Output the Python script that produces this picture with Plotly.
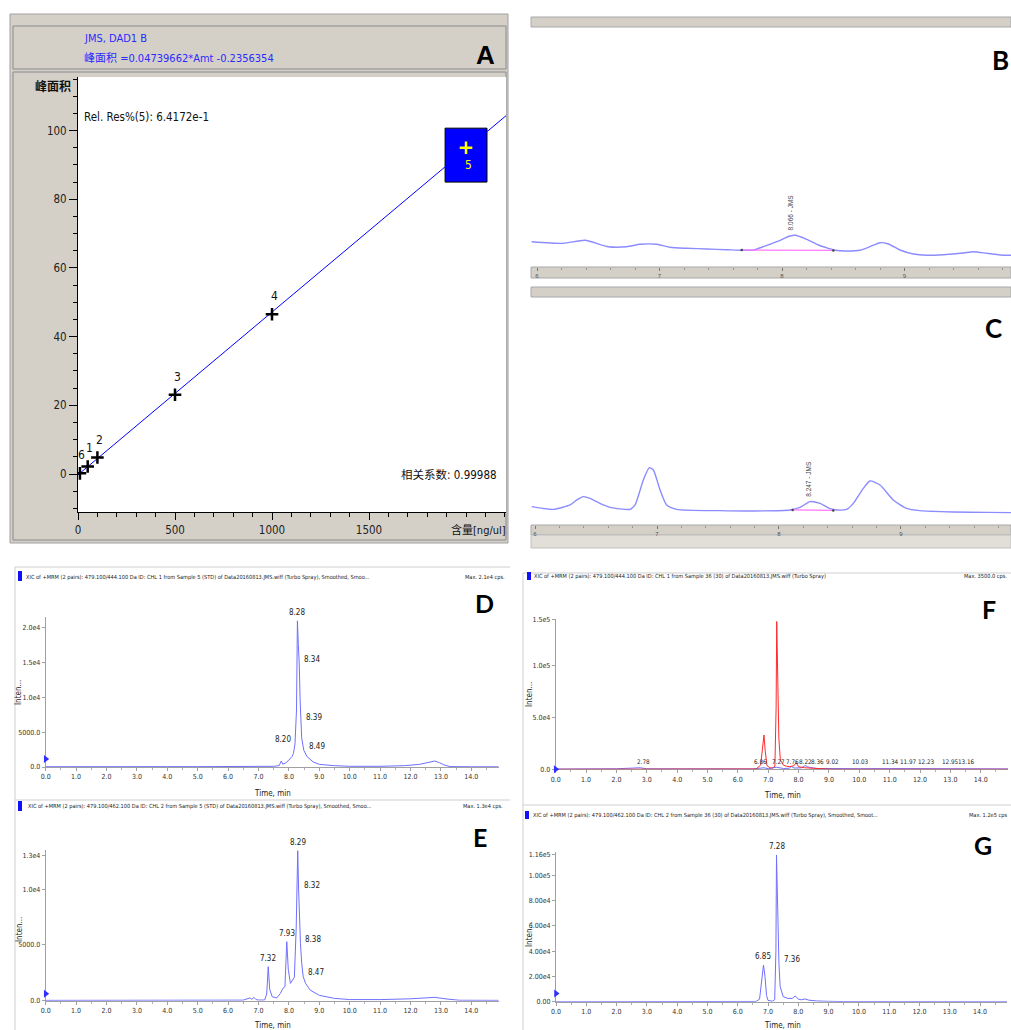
import plotly.graph_objects as go

# ---------------- DATA ----------------
# Panel A: calibration curve
cal_amount = [10, 50, 100, 500, 1000, 2000]
cal_area = [0.2, 2.2, 4.8, 23.1, 46.5, 95.0]
cal_labels = ["6", "1", "2", "3", "4", "5"]
fit_slope = 0.04739662
fit_intercept = -0.2356354
fit_x = [0, 2206]
a_xticks = [0, 500, 1000, 1500]
a_yticks = [0, 20, 40, 60, 80, 100]

# Panel B: DAD chromatogram (standard)
B_time = [5.956, 6.215, 6.392, 6.582, 6.732, 6.841, 6.977, 7.086, 7.222, 7.385, 7.548, 7.671,
          7.766, 7.848, 7.957, 8.065, 8.106, 8.201, 8.297, 8.378, 8.433, 8.541, 8.637, 8.718,
          8.800, 8.868, 8.963, 9.072, 9.181, 9.317, 9.480, 9.562, 9.671, 9.780, 9.870]
B_signal = [18.3, 16.7, 19.7, 13.3, 13.3, 15.7, 15.7, 12.7, 11.7, 11.0, 10.3, 9.7,
            10.0, 13.3, 18.3, 24.0, 24.7, 20.7, 15.0, 11.7, 9.7, 9.0, 9.7, 13.3,
            17.3, 16.0, 10.0, 6.0, 4.7, 5.3, 7.0, 8.3, 6.7, 5.0, 4.7]
B_base_time = [7.671, 8.419]
B_base_signal = [9.9, 9.6]
B_peak = (8.066, 24.7, "8.066 - JMS")

# Panel C: DAD chromatogram (sample)
C_time = [5.973, 6.150, 6.287, 6.340, 6.396, 6.451, 6.505, 6.560, 6.615, 6.779, 6.820, 6.888,
          6.937, 6.970, 7.025, 7.079, 7.161, 7.516, 7.790, 8.090, 8.172, 8.254, 8.336, 8.418,
          8.473, 8.555, 8.609, 8.691, 8.746, 8.828, 8.937, 9.046, 9.156, 9.429, 9.702, 9.902]
C_signal = [10.0, 7.3, 11.7, 16.5, 20.0, 18.3, 15.0, 11.7, 9.3, 7.3, 11.7, 36.7,
            49.0, 46.7, 26.7, 11.7, 7.3, 6.0, 5.7, 6.7, 9.3, 15.0, 13.3, 8.0,
            6.7, 7.3, 13.3, 28.3, 35.7, 31.7, 16.7, 8.3, 6.0, 4.7, 4.3, 4.0]
C_base_time = [8.112, 8.445]
C_base_signal = [6.7, 6.2]
C_peak = (8.247, 15.0, "8.247 - JMS")

# Panel D: XIC 479.1/444.1, standard
D_time = [0.0, 0.5, 1.0, 2.0, 3.0, 4.0, 5.0, 6.0, 7.0, 7.5, 7.68, 7.75, 7.8, 7.9, 8.0, 8.1,
          8.15, 8.2, 8.25, 8.28, 8.31, 8.34, 8.37, 8.39, 8.42, 8.49, 8.6, 8.8, 9.0, 9.5,
          10.0, 11.0, 11.8, 12.3, 12.6, 12.8, 12.95, 13.1, 13.3, 13.6, 14.0, 14.9]
D_intensity = [40, 30, 40, 50, 40, 50, 50, 60, 70, 100, 200, 860, 400, 600, 1000, 1500,
               1960, 3300, 8200, 21000, 17600, 14800, 9500, 6500, 4200, 2400, 1480, 720, 380, 190,
               100, 100, 190, 380, 620, 860, 620, 300, 60, 30, 30, 30]
D_peaks = [(8.28, 21000), (8.34, 14800), (8.39, 6500), (8.20, 3300), (8.49, 2400)]
D_yticks = [0, 5000, 10000, 15000, 20000]
D_yticktext = ["0.0", "5000.0", "1.0e4", "1.5e4", "2.0e4"]

# Panel E: XIC 479.1/462.1, standard
E_time = [0, 1, 2, 3, 4, 5, 6, 6.5, 6.72, 6.78, 6.85, 6.92, 7.0, 7.2, 7.27, 7.32, 7.37, 7.45,
          7.6, 7.72, 7.8, 7.87, 7.93, 7.98, 8.05, 8.12, 8.18, 8.24, 8.29, 8.32, 8.35, 8.38,
          8.42, 8.47, 8.55, 8.7, 9.0, 9.5, 10.0, 11.0, 12.0, 12.8, 13.2, 13.6, 14.9]
E_intensity = [30, 30, 40, 30, 40, 30, 40, 50, 250, 120, 300, 100, 60, 60, 600, 3050, 1000, 350,
               250, 650, 1100, 1250, 5290, 2800, 1550, 1800, 2100, 6500, 13440, 9920, 7000, 5140,
               3400, 2150, 1550, 950, 480, 210, 100, 100, 170, 300, 150, 40, 30]
E_peaks = [(8.29, 13440), (8.32, 9920), (7.93, 5290), (8.38, 5140), (7.32, 3050), (8.47, 2150)]
E_yticks = [0, 5000, 10000, 13000]
E_yticktext = ["0.0", "5000.0", "1.0e4", "1.3e4"]

# Panel F: XIC 479.1/444.1, sample (red) + second channel (blue)
F_red_time = [0, 1, 2, 3, 4, 5, 6, 6.6, 6.75, 6.82, 6.86, 6.9, 6.96, 7.05, 7.15, 7.22, 7.26,
              7.28, 7.31, 7.35, 7.4, 7.5, 7.6, 7.7, 7.85, 7.92, 8.0, 8.2, 8.5, 8.9, 9.1, 10, 12, 14.9]
F_red_intensity = [0, 0, 0, 0, 0, 0, 0, 300, 4000, 25000, 33200, 18000, 3500, 1500, 1200, 3000,
                   60000, 143000, 95000, 30000, 9000, 4000, 3000, 2500, 3500, 6500, 2500, 1500,
                   1000, 600, 0, 0, 0, 0]
F_blue_time = [0, 2, 2.78, 3, 6.5, 6.86, 7.0, 7.27, 7.5, 7.7, 7.76, 7.85, 8.1, 8.22, 8.3, 8.36,
               8.6, 9.02, 9.5, 10.03, 11.34, 11.97, 12.23, 12.95, 13.16, 14.9]
F_blue_intensity = [300, 500, 1500, 500, 400, 1500, 600, 2000, 800, 1000, 2800, 1200, 1500, 3600,
                    2500, 1800, 800, 900, 400, 600, 700, 600, 900, 700, 600, 400]
F_labels = [2.78, 6.86, 7.27, 7.76, 8.22, 8.36, 9.02, 10.03, 11.34, 11.97, 12.23, 12.95, 13.16]
F_yticks = [0, 50000, 100000, 145000]
F_yticktext = ["0.0", "5.0e4", "1.0e5", "1.5e5"]

# Panel G: XIC 479.1/462.1, sample
G_time = [0, 1, 2, 3, 4, 5, 6, 6.6, 6.72, 6.8, 6.85, 6.9, 6.95, 7.0, 7.15, 7.22, 7.26, 7.28,
          7.31, 7.34, 7.36, 7.4, 7.5, 7.65, 7.8, 7.9, 8.0, 8.1, 8.22, 8.35, 8.6, 9.0, 9.5, 14.9]
G_intensity = [0, 0, 0, 0, 0, 0, 0, 200, 2000, 18000, 29000, 20000, 5000, 1000, 400, 1500, 40000,
               116000, 80000, 40000, 30300, 12000, 4000, 2600, 2600, 4500, 2000, 1500, 2200, 1200,
               600, 300, 100, 0]
G_peaks = [(7.28, 116000), (6.85, 29000), (7.36, 30300)]
G_yticks = [0, 20000, 40000, 60000, 80000, 100000, 116000]
G_yticktext = ["0.00", "2.00e4", "4.00e4", "6.00e4", "8.00e4", "1.00e5", "1.16e5"]

# threshold markers (blue arrows at the y axis)
thr_D, thr_E, thr_F, thr_G = 1150, 630, 0, 6480

# ---------------- STYLE / LAYOUT ----------------
W, H = 1011, 1030
def fx(p): return p / W
def fy(p): return 1 - p / H

NARROW = "Liberation Sans Narrow, Arial Narrow, DejaVu Sans Condensed, Noto Sans CJK SC, sans-serif"
SANS = "Liberation Sans, Arial, Noto Sans CJK SC, sans-serif"
WIN_GRAY = "#d4d0c8"
TRACE_BLUE = "#6f6fff"
DAD_BLUE = "#8c8cff"
TICK_SIZE = 7

fig = go.Figure()

# ---- Panel A ----
fit_y = [fit_slope * v + fit_intercept for v in fit_x]
fig.add_trace(go.Scatter(x=fit_x, y=fit_y, mode="lines", line=dict(color="#0000ff", width=1),
                         xaxis="x", yaxis="y", hoverinfo="skip"))
fig.add_trace(go.Scatter(x=cal_amount[:5], y=cal_area[:5], mode="markers",
                         marker=dict(symbol="cross-thin", size=9, line=dict(color="black", width=2.5)),
                         xaxis="x", yaxis="y"))
fig.add_trace(go.Scatter(x=cal_amount[5:], y=cal_area[5:], mode="markers",
                         marker=dict(symbol="cross-thin", size=9, line=dict(color="#ffff00", width=2.5)),
                         xaxis="x", yaxis="y"))

# ---- Panel B / C ----
fig.add_trace(go.Scatter(x=B_time, y=B_signal, mode="lines", line=dict(color=DAD_BLUE, width=1.4, shape="spline", smoothing=0.6),
                         xaxis="x2", yaxis="y2"))
fig.add_trace(go.Scatter(x=B_base_time, y=B_base_signal, mode="lines+markers", line=dict(color="#ff77ff", width=1.2),
                         marker=dict(size=2.5, color="#444"), xaxis="x2", yaxis="y2"))
fig.add_trace(go.Scatter(x=C_time, y=C_signal, mode="lines", line=dict(color=DAD_BLUE, width=1.4, shape="spline", smoothing=0.6),
                         xaxis="x3", yaxis="y3"))
fig.add_trace(go.Scatter(x=C_base_time, y=C_base_signal, mode="lines+markers", line=dict(color="#ff77ff", width=1.2),
                         marker=dict(size=2.5, color="#444"), xaxis="x3", yaxis="y3"))

# ---- Panels D-G ----
fig.add_trace(go.Scatter(x=D_time, y=D_intensity, mode="lines", line=dict(color=TRACE_BLUE, width=1), xaxis="x4", yaxis="y4"))
fig.add_trace(go.Scatter(x=E_time, y=E_intensity, mode="lines", line=dict(color=TRACE_BLUE, width=1), xaxis="x5", yaxis="y5"))
fig.add_trace(go.Scatter(x=F_blue_time, y=F_blue_intensity, mode="lines", line=dict(color=TRACE_BLUE, width=1), xaxis="x6", yaxis="y6"))
fig.add_trace(go.Scatter(x=F_red_time, y=F_red_intensity, mode="lines", line=dict(color="#ff2a2a", width=1), xaxis="x6", yaxis="y6"))
fig.add_trace(go.Scatter(x=G_time, y=G_intensity, mode="lines", line=dict(color=TRACE_BLUE, width=1), xaxis="x7", yaxis="y7"))
for ax, thr in [("4", thr_D), ("5", thr_E), ("6", thr_F), ("7", thr_G)]:
    fig.add_trace(go.Scatter(x=[0], y=[thr], mode="markers", cliponaxis=False,
                             marker=dict(symbol="triangle-right", size=7, color="#2f2fff"),
                             xaxis="x" + ax, yaxis="y" + ax))

# ---- axes ----
def chrom_x(dom, rng, anchor):
    return dict(domain=dom, range=rng, anchor=anchor, showline=True, linecolor="#a0a0a0", linewidth=1,
                ticks="outside", ticklen=3, tickcolor="#a0a0a0", dtick=1, tick0=0, tickformat=".1f",
                minor=dict(dtick=0.5, ticklen=2, ticks="outside", tickcolor="#b0b0b0"),
                showgrid=False, zeroline=False, layer="below traces", automargin=False,
                tickfont=dict(family=NARROW, size=TICK_SIZE, color="#333"))

def chrom_y(dom, rng, anchor, vals, text):
    return dict(domain=dom, range=rng, anchor=anchor, showline=True, linecolor="#a0a0a0", linewidth=1,
                ticks="outside", ticklen=3, tickcolor="#a0a0a0", tickvals=vals, ticktext=text,
                showgrid=False, zeroline=False, layer="below traces", automargin=False,
                tickfont=dict(family=NARROW, size=TICK_SIZE, color="#333"))

D_scale = 34.8 / 5000
E_scale = 55.8 / 5000
F_scale = 51.7 / 50000
G_scale = 12.65 / 10000

layout = dict(
    template="none",
    width=W, height=H, autosize=False, margin=dict(l=0, r=0, t=0, b=0, pad=0),
    paper_bgcolor="white", plot_bgcolor="white", showlegend=False,
    xaxis=dict(domain=[fx(78), fx(506)], range=[0, 2206], anchor="y", showline=True, linecolor="black",
               ticks="outside", ticklen=7, tickcolor="black", tickvals=a_xticks, automargin=False,
               minor=dict(dtick=100, tick0=0, ticklen=4, ticks="outside", tickcolor="black"),
               showgrid=False, zeroline=False, tickfont=dict(family=NARROW, size=11.5, color="#222")),
    yaxis=dict(domain=[fy(512), fy(77)], range=[-11.06, 115.6], anchor="x", showline=True, linecolor="black",
               ticks="outside", ticklen=8, tickcolor="black", tickvals=a_yticks, automargin=False,
               minor=dict(dtick=5, tick0=0, ticklen=4, ticks="outside", tickcolor="black"),
               showgrid=False, zeroline=False, tickfont=dict(family=NARROW, size=11.5, color="#222")),
    xaxis2=dict(domain=[fx(531), 1], range=[5.951, 9.869], anchor="y2", showline=False, ticks="outside",
                ticklen=3, tickcolor="#777", dtick=1, tick0=0, automargin=False,
                minor=dict(dtick=0.2, tick0=0, ticklen=2, ticks="outside", tickcolor="#999"),
                showgrid=False, zeroline=False, tickfont=dict(family=SANS, size=6, color="#555")),
    yaxis2=dict(domain=[fy(267), fy(27)], range=[-7, 233], anchor="x2", visible=False, automargin=False),
    xaxis3=dict(domain=[fx(531), 1], range=[5.967, 9.902], anchor="y3", showline=False, ticks="outside",
                ticklen=3, tickcolor="#777", dtick=1, tick0=0, automargin=False,
                minor=dict(dtick=0.2, tick0=0, ticklen=2, ticks="outside", tickcolor="#999"),
                showgrid=False, zeroline=False, tickfont=dict(family=SANS, size=6, color="#555")),
    yaxis3=dict(domain=[fy(525), fy(297)], range=[-8.33, 219.67], anchor="x3", visible=False, automargin=False),
    xaxis4=chrom_x([fx(45.7), fx(45.7 + 14.9 * 30.4)], [0, 14.9], "y4"),
    yaxis4=chrom_y([fy(767), fy(767 - 21600 * D_scale)], [0, 21600], "x4", D_yticks, D_yticktext),
    xaxis5=chrom_x([fx(45.7), fx(45.7 + 14.9 * 30.4)], [0, 14.9], "y5"),
    yaxis5=chrom_y([fy(1000.7), fy(1000.7 - 13500 * E_scale)], [0, 13500], "x5", E_yticks, E_yticktext),
    xaxis6=chrom_x([fx(555.7), fx(555.7 + 14.9 * 30.36)], [0, 14.9], "y6"),
    yaxis6=chrom_y([fy(769.3), fy(769.3 - 145000 * F_scale)], [0, 145000], "x6", F_yticks, F_yticktext),
    xaxis7=chrom_x([fx(556), fx(556 + 14.9 * 30.29)], [0, 14.9], "y7"),
    yaxis7=chrom_y([fy(1001.7), fy(1001.7 - 118000 * G_scale)], [0, 118000], "x7", G_yticks, G_yticktext),
)
fig.update_layout(**layout)

# ---- shapes ----
shapes = []
def prect(x0, y0, x1, y1, fill=None, line=None, lw=1):
    return dict(type="rect", xref="paper", yref="paper", x0=fx(x0), x1=fx(x1), y0=fy(y1), y1=fy(y0),
                fillcolor=fill if fill else "rgba(0,0,0,0)",
                line=dict(color=line if line else "rgba(0,0,0,0)", width=lw), layer="below")
def pline(x0, y0, x1, y1, color="#cfcfcf", lw=1):
    return dict(type="line", xref="paper", yref="paper", x0=fx(x0), x1=fx(x1), y0=fy(y0), y1=fy(y1),
                line=dict(color=color, width=lw), layer="below")

# Panel A frame
shapes.append(prect(10, 14, 508, 543, WIN_GRAY, "#a0a0a0"))
shapes.append(prect(13, 26, 506, 69, WIN_GRAY, "#8a8a8a"))
shapes.append(prect(13, 72, 506, 540, None, "#8a8a8a"))
shapes.append(prect(78, 77, 506, 512, "white", None))
shapes.append(dict(type="rect", xref="x", yref="y", x0=1892, x1=2108, y0=85, y1=100.7,
                   fillcolor="#0000ff", line=dict(color="black", width=1), layer="below"))
# Panels B / C bars
shapes.append(prect(531, 17, 1011, 27, WIN_GRAY, "#a8a8a8"))
shapes.append(prect(531, 267, 1011, 278, WIN_GRAY, "#a8a8a8"))
shapes.append(prect(531, 287, 1011, 297, WIN_GRAY, "#a8a8a8"))
shapes.append(prect(531, 525, 1011, 535, WIN_GRAY, "#a8a8a8"))
shapes.append(prect(531, 535, 1011, 548, "#e2dfd8", "#c0c0c0"))
# Lower sections frames
shapes.append(pline(15, 567, 510, 567))
shapes.append(pline(15, 567, 15, 1030))
shapes.append(pline(15, 800, 510, 800))
shapes.append(pline(523, 573, 1011, 573))
shapes.append(pline(523, 573, 523, 1030))
shapes.append(pline(523, 805, 1011, 805))
# header markers
for (x0, y0, x1, y1) in [(18, 571, 22, 581), (18, 801, 22, 811), (527, 572, 531, 580), (525, 811, 529, 819)]:
    shapes.append(prect(x0, y0, x1, y1, "#1010ff", None))
fig.update_layout(shapes=shapes)

# ---- annotations ----
ann = []
def ptext(text, x, y, size=11, color="black", family=NARROW, xanchor="left", yanchor="middle", angle=0):
    ann.append(dict(text=text, x=fx(x), y=fy(y), xref="paper", yref="paper", showarrow=False,
                    xanchor=xanchor, yanchor=yanchor, textangle=angle,
                    font=dict(size=size, color=color, family=family)))

# Panel A text
ptext("JMS, DAD1 B", 82, 38, 11, "#2a2aff")
ptext("峰面积 =0.04739662*Amt -0.2356354", 82, 58, 11, "#2a2aff")
ptext("<b>A</b>", 485, 55, 26, "black", SANS, "center")
ptext("<b>峰面积</b>", 53, 86, 12, "#111", NARROW, "center")
ptext("Rel. Res%(5): 6.4172e-1", 82, 117, 11.5, "#111")
ptext("相关系数: 0.99988", 399, 475, 11.5, "#111")
ptext("含量[ng/ul]", 508, 530, 11, "#111", NARROW, "right")
for xv, yv, lab in zip(cal_amount, cal_area, cal_labels):
    if lab == "5":
        ann.append(dict(text=lab, x=xv, y=yv, xref="x", yref="y", showarrow=False, yshift=-17, xshift=2,
                        font=dict(size=12, color="#ffff00", family=NARROW)))
    else:
        ann.append(dict(text=lab, x=xv, y=yv, xref="x", yref="y", showarrow=False, yshift=18, xshift=2,
                        font=dict(size=12, color="#111", family=NARROW)))

# Panel labels
LBL = "Lato, Open Sans, sans-serif"
ptext("<b>B</b>", 1000, 60, 26, "black", LBL, "center")
ptext("<b>C</b>", 993, 328, 26, "black", LBL, "center")
ptext("<b>D</b>", 484, 603, 25, "black", LBL, "center")
ptext("<b>E</b>", 480, 837, 25, "black", LBL, "center")
ptext("<b>F</b>", 989, 609, 25, "black", LBL, "center")
ptext("<b>G</b>", 983, 845, 25, "black", LBL, "center")

# B / C peak labels (rotated)
for (t, v, lab), ax in [(B_peak, "2"), (C_peak, "3")]:
    ann.append(dict(text=lab, x=t, y=v, xref="x" + ax, yref="y" + ax, showarrow=False, textangle=-90,
                    yanchor="bottom", yshift=3, font=dict(size=6.5, color="#444", family=SANS)))

# Lower headers
HS = 5.6
ptext("XIC of +MRM (2 pairs): 479.100/444.100 Da ID: CHL 1 from Sample 5 (STD) of Data20160813.JMS.wiff (Turbo Spray), Smoothed, Smoo...",
      24, 577, HS, "#222")
ptext("Max. 2.1e4 cps.", 507, 577, HS, "#222", NARROW, "right")
ptext("XIC of +MRM (2 pairs): 479.100/462.100 Da ID: CHL 2 from Sample 5 (STD) of Data20160813.JMS.wiff (Turbo Spray), Smoothed, Smoo...",
      26, 806, HS, "#222")
ptext("Max. 1.3e4 cps.", 505, 806, HS, "#222", NARROW, "right")
ptext("XIC of +MRM (2 pairs): 479.100/444.100 Da ID: CHL 1 from Sample 36 (30) of Data20160813.JMS.wiff (Turbo Spray)",
      532, 576, HS, "#222")
ptext("Max. 3500.0 cps.", 1009, 576, HS, "#222", NARROW, "right")
ptext("XIC of +MRM (2 pairs): 479.100/462.100 Da ID: CHL 2 from Sample 36 (30) of Data20160813.JMS.wiff (Turbo Spray), Smoothed, Smoot...",
      531, 815, HS, "#222")
ptext("Max. 1.2e5 cps", 1009, 815, HS, "#222", NARROW, "right")

# axis titles
for (x, y) in [(272, 793), (272, 1025), (782, 795), (782, 1025)]:
    ptext("Time, min", x, y, 8, "#222", NARROW, "center")
for (x, y) in [(18, 693), (19, 930), (529, 695), (529, 935)]:
    ptext("Inten...", x, y, 8, "#222", NARROW, "center", "middle", -90)

# peak labels
PK = dict(size=8, color="#222", family=NARROW)
def peak(ax, t, v, mode):
    d = dict(text=f"{t:.2f}", x=t, y=v, xref="x" + ax, yref="y" + ax, showarrow=False, font=PK)
    if mode == "top":
        d.update(xanchor="center", yanchor="bottom", yshift=2)
    elif mode == "right":
        d.update(xanchor="left", yanchor="middle", xshift=3, yshift=4)
    elif mode == "left":
        d.update(xanchor="right", yanchor="middle", xshift=-2, yshift=5)
    ann.append(d)

for (t, v), m in zip(D_peaks, ["top", "right", "right", "left", "right"]):
    peak("4", t, v, m)
for (t, v), m in zip(E_peaks, ["top", "right", "top", "right", "top", "right"]):
    peak("5", t, v, m)
for (t, v), m in zip(G_peaks, ["top", "top", "right"]):
    peak("7", t, v, m)
F_shift = [3, -3, 2, 1, 0, 8, 3, 0, -9, -11, -1, 2, 11]
FK = dict(size=6.3, color="#222", family=NARROW)
for t, s in zip(F_labels, F_shift):
    ann.append(dict(text=f"{t:.2f}", x=t, y=0, xref="x6", yref="y6", showarrow=False, font=FK,
                    xanchor="center", yanchor="bottom", yshift=2, xshift=s))

fig.update_layout(annotations=ann)
fig.write_html("out.html", config={"displayModeBar": False},
               post_script="document.body.style.margin='0px';document.body.style.padding='0px';")
